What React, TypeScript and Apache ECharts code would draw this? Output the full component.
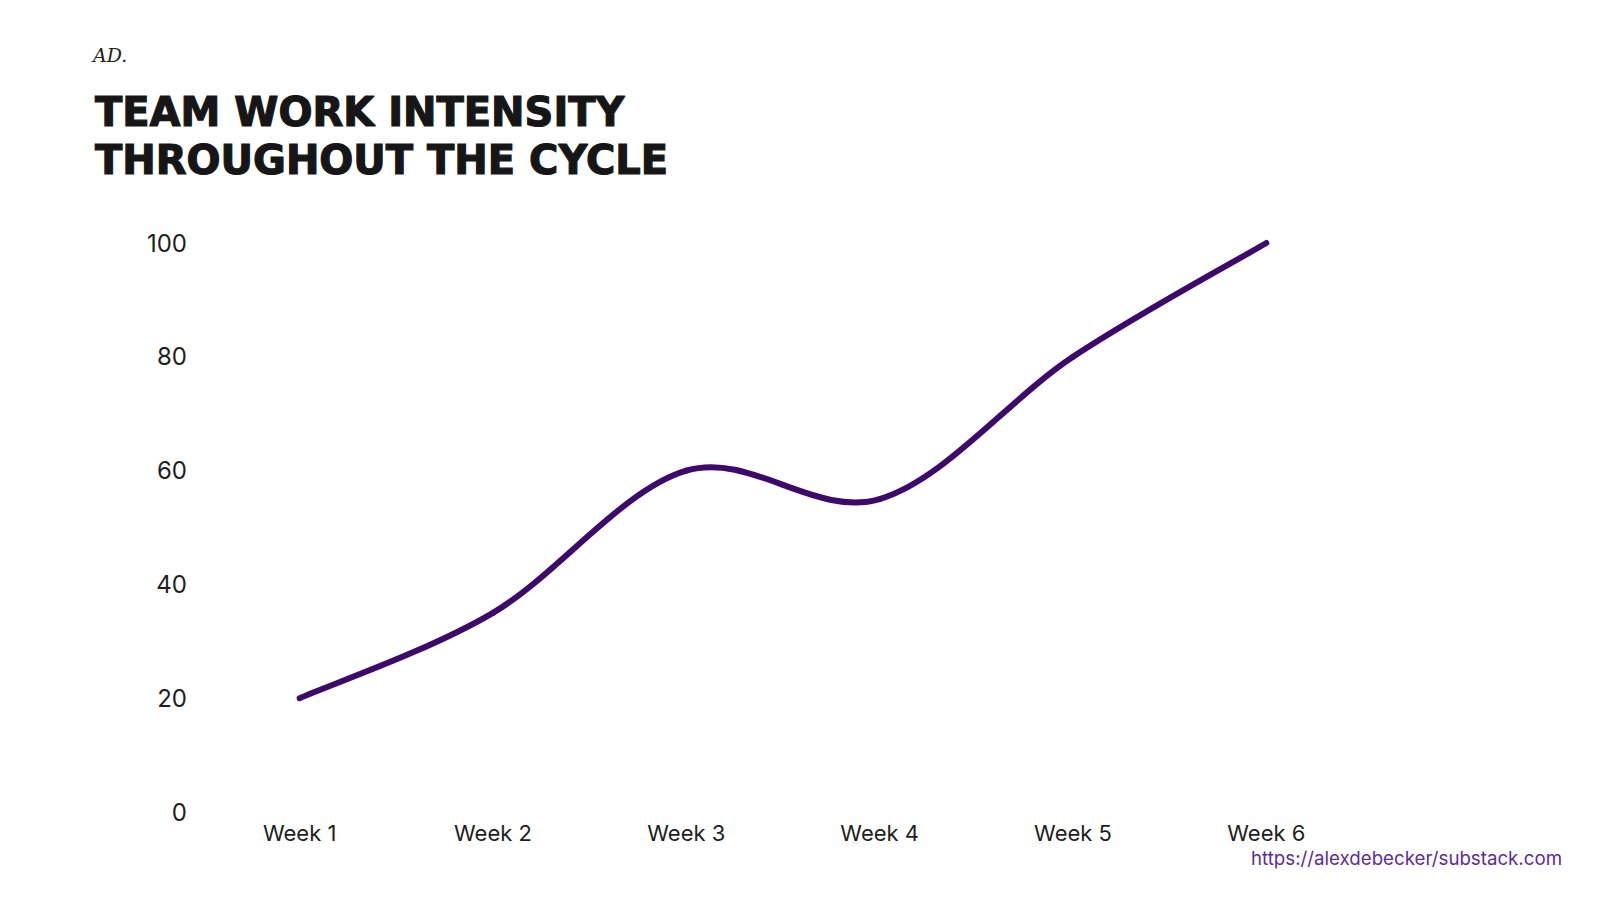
import React, { useEffect, useRef } from "react";
import * as echarts from "echarts";

const categories = ["Week 1", "Week 2", "Week 3", "Week 4", "Week 5", "Week 6"];
const intensity = [20, 35, 60, 55, 80, 100];
const titleLines = ["TEAM WORK INTENSITY", "THROUGHOUT THE CYCLE"];
const logoText = "AD.";
const sourceText = "https://alexdebecker/substack.com";

const LINE_COLOR = "#3d0a6b";

export default function App() {
  const ref = useRef<HTMLDivElement>(null);
  useEffect(() => {
    if (!ref.current) return;
    const chart = echarts.init(ref.current, undefined, { renderer: "svg" });

    // Catmull-Rom style smoothing, one cubic segment per data item,
    // positioned through the cartesian axes via api.coord.
    const renderItem = (params: any, api: any) => {
      const i = params.dataIndex;
      const n = intensity.length;
      if (i >= n - 1) return { type: "group", children: [] };
      const pt = (k: number) => {
        const kk = Math.max(0, Math.min(n - 1, k));
        return api.coord([kk, intensity[kk]]);
      };
      const p0 = pt(i - 1);
      const p1 = pt(i);
      const p2 = pt(i + 1);
      const p3 = pt(i + 2);
      const t = 1 / 6;
      return {
        type: "bezierCurve",
        shape: {
          x1: p1[0],
          y1: p1[1],
          cpx1: p1[0] + (p2[0] - p0[0]) * t,
          cpy1: p1[1] + (p2[1] - p0[1]) * t,
          cpx2: p2[0] - (p3[0] - p1[0]) * t,
          cpy2: p2[1] - (p3[1] - p1[1]) * t,
          x2: p2[0],
          y2: p2[1],
        },
        style: {
          stroke: LINE_COLOR,
          lineWidth: 6,
          fill: "none",
          lineCap: "round",
        },
      };
    };

    chart.setOption({
      animation: false,
      backgroundColor: "#ffffff",
      title: {
        text: titleLines.join("\n"),
        left: 90,
        top: 83,
        textStyle: {
          fontFamily: "DejaVu Sans",
          fontWeight: "bold",
          fontSize: 40,
          lineHeight: 48,
          color: "#161616",
          textBorderColor: "#161616",
          textBorderWidth: 1.2,
        },
      },
      graphic: [
        {
          type: "text",
          left: 93,
          top: 45,
          style: {
            text: logoText,
            fontFamily: "DejaVu Serif",
            fontStyle: "italic",
            fontSize: 19,
            fill: "#222222",
          },
        },
        {
          type: "text",
          right: 38,
          top: 849,
          style: {
            text: sourceText,
            fontFamily: "Inter",
            fontSize: 18.7,
            fill: "#5c2c9a",
          },
        },
      ],
      grid: { left: 203, right: 237, top: 243, bottom: 88, containLabel: false },
      xAxis: {
        type: "category",
        data: categories,
        boundaryGap: true,
        axisLine: { show: false },
        axisTick: { show: false },
        splitLine: { show: false },
        axisLabel: {
          margin: 10,
          fontFamily: "Inter",
          fontSize: 22,
          color: "#1e1e1e",
        },
      },
      yAxis: {
        type: "value",
        min: 0,
        max: 100,
        interval: 20,
        axisLine: { show: false },
        axisTick: { show: false },
        splitLine: { show: false },
        axisLabel: {
          margin: 16,
          fontFamily: "Inter",
          fontSize: 24,
          color: "#1e1e1e",
        },
      },
      series: [
        {
          type: "custom",
          name: "Intensity",
          renderItem,
          data: intensity.map((v, i) => [i, v]),
          encode: { x: 0, y: 1 },
        },
      ],
    });
    return () => chart.dispose();
  }, []);
  return (
    <div
      ref={ref}
      style={{ position: "absolute", left: 0, top: 0, width: 1600, height: 900, background: "#fff" }}
    />
  );
}
